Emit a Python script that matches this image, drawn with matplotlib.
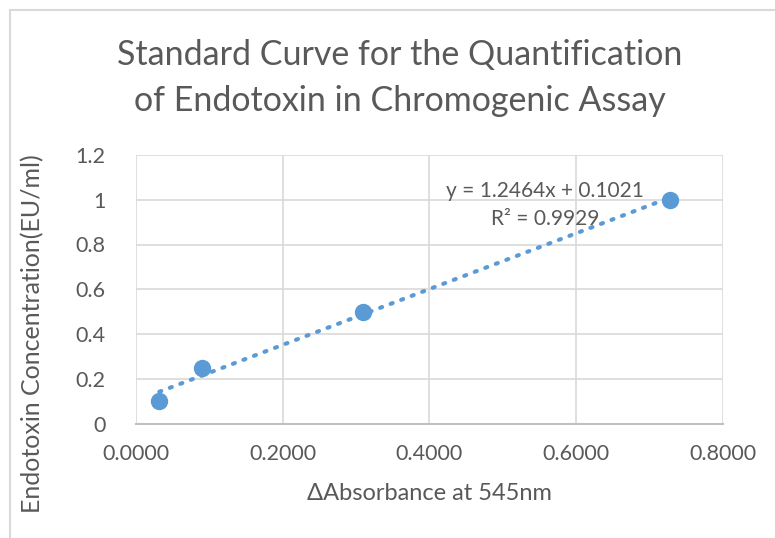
import matplotlib
matplotlib.use("Agg")
import matplotlib.pyplot as plt
import numpy as np
from matplotlib.patches import Rectangle

# Data
absorbance = [0.0318, 0.0905, 0.3090, 0.7280]
concentration = [0.10, 0.25, 0.50, 1.00]
slope, intercept = 1.2464, 0.1021
x_ticks = [0.0, 0.2, 0.4, 0.6, 0.8]
x_tick_labels = ["0.0000", "0.2000", "0.4000", "0.6000", "0.8000"]
y_ticks = [0, 0.2, 0.4, 0.6, 0.8, 1.0, 1.2]
y_tick_labels = ["0", "0.2", "0.4", "0.6", "0.8", "1", "1.2"]

plt.rcParams['font.family'] = ['Lato', 'DejaVu Sans']
txt = '#595959'
blue = '#5B9BD5'

W, H = 775, 538
fig = plt.figure(figsize=(W/100, H/100), dpi=100)
fig.patch.set_facecolor('white')

# outer chart border
fig.patches.append(Rectangle((10/W, -0.1), 1.2, (H-10)/H + 0.1, transform=fig.transFigure,
                             fill=False, edgecolor='#D9D9D9', linewidth=1.5))

ax = fig.add_axes([136/W, (H-423.5)/H, (722.7-136)/W, (423.5-155)/H])
ax.set_xlim(0, 0.8)
ax.set_ylim(0, 1.2)
ax.set_xticks(x_ticks)
ax.set_xticklabels(x_tick_labels)
ax.set_yticks(y_ticks)
ax.set_yticklabels(y_tick_labels)
ax.tick_params(length=0, labelsize=15.5, colors=txt, pad=15)
ax.tick_params(axis='y', pad=22)
ax.grid(True, color='#D9D9D9', linewidth=1.2)
ax.set_axisbelow(True)
for s in ['top', 'right', 'left']:
    ax.spines[s].set_visible(False)
ax.spines['bottom'].set_color('#BFBFBF')
ax.spines['bottom'].set_linewidth(1.5)

# trendline
xs = np.array([min(absorbance), max(absorbance)])
ax.plot(xs, slope*xs + intercept, linestyle=(0, (0.5, 2.2)), dash_capstyle='round',
        color=blue, linewidth=3, zorder=2)
ax.plot(absorbance, concentration, 'o', color=blue, markersize=11.5, zorder=3)

ax.text(545/W, (H-191)/H, "y = 1.2464x + 0.1021", transform=fig.transFigure,
        ha='center', va='center', fontsize=15, color=txt)
ax.text(545/W, (H-219)/H, "R² = 0.9929", transform=fig.transFigure,
        ha='center', va='center', fontsize=15, color=txt)

fig.text(400/W, (H-55)/H, "Standard Curve for the Quantification", ha='center', va='center',
         fontsize=24.5, color=txt)
fig.text(400/W, (H-101)/H, "of Endotoxin in Chromogenic Assay", ha='center', va='center',
         fontsize=24.5, color=txt)
fig.text(429/W, (H-494)/H, "ΔAbsorbance at 545nm", ha='center', va='center',
         fontsize=17, color=txt)
fig.text(33/W, (H-334)/H, "Endotoxin Concentration(EU/ml)", ha='center', va='center',
         rotation=90, fontsize=18, color=txt)

fig.savefig("out.png", dpi=100, facecolor='white')
